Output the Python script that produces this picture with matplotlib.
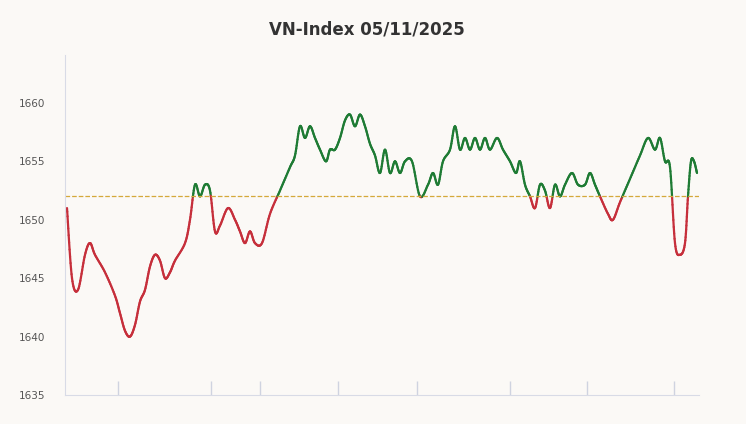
import numpy as np
import matplotlib.pyplot as plt
from matplotlib.collections import LineCollection

# ================
# Data (time positions, index values)
# ================
t = [67, 72, 78, 85, 90, 95, 105, 115, 120, 125, 130, 135, 140, 145, 150, 155, 160, 165,
     170, 175, 185, 190, 195, 200, 205, 210, 215, 220, 228, 235, 240, 245, 250, 255, 262,
     270, 280, 290, 295, 300, 305, 310, 315, 320, 326, 330, 335, 340, 345, 350, 355, 360,
     365, 370, 375, 380, 385, 390, 395, 400, 405, 412, 420, 428, 433, 438, 443, 450, 455,
     460, 465, 470, 475, 480, 485, 490, 497, 503, 510, 516, 520, 525, 530, 535, 540, 545,
     550, 555, 560, 565, 572, 578, 585, 590, 595, 600, 608, 613, 620, 630, 640, 648, 655,
     660, 665, 670, 675, 680, 685, 688, 691, 694, 697]
vals = [1651, 1645, 1644, 1647, 1648, 1647, 1645.5, 1643.5, 1642, 1640.5, 1640, 1641, 1643,
        1644, 1646, 1647, 1646.5, 1645, 1645.5, 1646.5, 1648, 1650, 1653, 1652, 1653, 1652.5,
        1649, 1649.5, 1651, 1650, 1649, 1648, 1649, 1648, 1648, 1650.5, 1652.5, 1654.5,
        1655.5, 1658, 1657, 1658, 1657, 1656, 1655, 1656, 1656, 1657, 1658.5, 1659, 1658,
        1659, 1658, 1656.5, 1655.5, 1654, 1656, 1654, 1655, 1654, 1655, 1655, 1652, 1653,
        1654, 1653, 1655, 1656, 1658, 1656, 1657, 1656, 1657, 1656, 1657, 1656, 1657, 1656,
        1655, 1654, 1655, 1653, 1652, 1651, 1653, 1652.5, 1651, 1653, 1652, 1653, 1654, 1653,
        1653, 1654, 1653, 1652, 1650.5, 1650, 1651.5, 1653.5, 1655.5, 1657, 1656, 1657, 1655,
        1654.5, 1648, 1647, 1648, 1652, 1655, 1655, 1654]
reference = 1652
session_ticks = [118, 211, 260, 338, 417, 510, 587, 674]
y_ticks = [1635, 1640, 1645, 1650, 1655, 1660]

# ================
# Smooth curve (Catmull-Rom)
# ================
def catmull_rom(x, y, n=12):
    x = np.asarray(x, float); y = np.asarray(y, float)
    px = np.concatenate([[x[0]], x, [x[-1]]])
    py = np.concatenate([[y[0]], y, [y[-1]]])
    xs, ys = [], []
    s = np.linspace(0, 1, n, endpoint=False)
    for i in range(1, len(px) - 2):
        for arr, out in ((px, xs), (py, ys)):
            p0, p1, p2, p3 = arr[i - 1], arr[i], arr[i + 1], arr[i + 2]
            out.extend(0.5 * (2 * p1 + (-p0 + p2) * s + (2 * p0 - 5 * p1 + 4 * p2 - p3) * s ** 2
                              + (-p0 + 3 * p1 - 3 * p2 + p3) * s ** 3))
    xs.append(x[-1]); ys.append(y[-1])
    return np.array(xs), np.array(ys)

sx, sy = catmull_rom(t, vals)
pts = np.column_stack([sx, sy]).reshape(-1, 1, 2)
segs = np.concatenate([pts[:-1], pts[1:]], axis=1)
mid = (sy[:-1] + sy[1:]) / 2
colors = np.where(mid >= reference, '#1e7b34', '#c62f3b')

# ================
# Plot
# ================
bg = '#fbf9f6'
fig = plt.figure(figsize=(7.46, 4.24), dpi=100, facecolor=bg)
ax = fig.add_axes([65 / 746, 1 - 395 / 424, 634 / 746, 340 / 424], facecolor=bg)
ax.add_collection(LineCollection(segs, colors=colors, linewidths=1.6, capstyle='round'))
ax.axhline(reference, color='#d4a93a', linestyle='--', linewidth=0.9)

ax.set_xlim(65, 699)
ax.set_ylim(1635, 1664.1)
ax.set_yticks(y_ticks)
ax.set_yticklabels([str(v) for v in y_ticks], fontsize=7.5, color='#555555')
ax.set_xticks(session_ticks)
ax.set_xticklabels([])
ax.tick_params(axis='x', direction='in', length=10, color='#cfd3e0', width=1)
ax.tick_params(axis='y', length=0, pad=14)
for side in ['top', 'right']:
    ax.spines[side].set_visible(False)
for side in ['left', 'bottom']:
    ax.spines[side].set_color('#d8dbe6')
fig.text(367 / 746, 1 - 29 / 424, 'VN-Index 05/11/2025', ha='center', va='center',
         fontsize=12, fontweight='bold', color='#333333')
fig.savefig('out.png', dpi=100, facecolor=bg)
